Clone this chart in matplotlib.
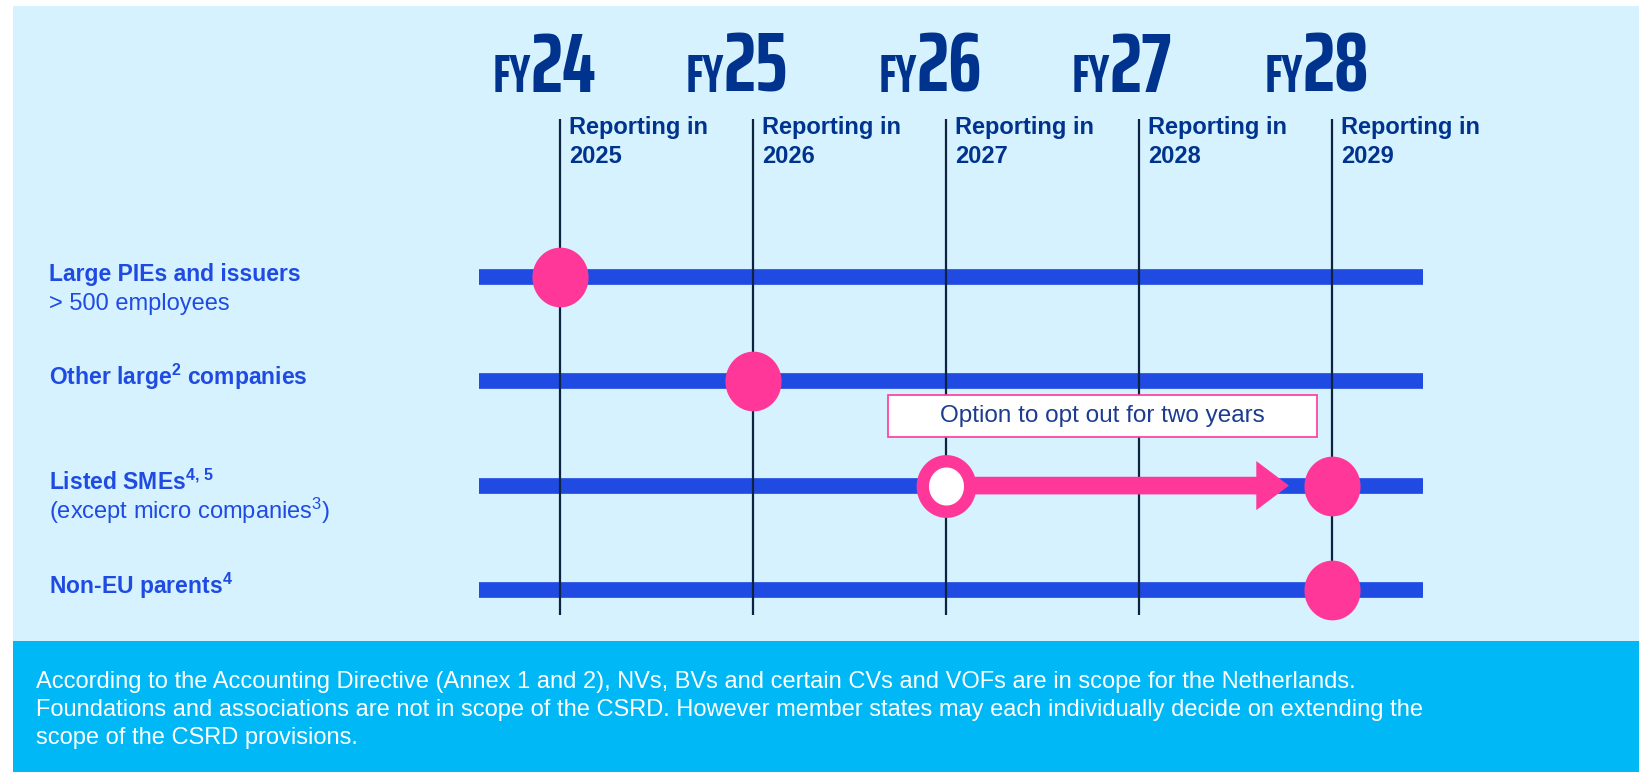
import numpy as np
import matplotlib
matplotlib.use('Agg')
import matplotlib.pyplot as plt
from matplotlib.patches import Rectangle, FancyArrowPatch
from matplotlib.path import Path

# ---- data ----
fiscal_years = [24, 25, 26, 27, 28]
report_years = [2025, 2026, 2027, 2028, 2029]
groups = ['Large PIEs and issuers',
          'Other large$^{\\mathbf{2}}$ companies',
          'Listed SMEs$^{\\mathbf{4,\\,5}}$',
          'Non-EU parents$^{\\mathbf{4}}$']
group_notes = ['> 500 employees', '', '(except micro companies$^{3}$)', '']
first_fy = [24, 25, 26, 28]
opt_out_until = [None, None, 28, None]
opt_out_label = 'Option to opt out for two years'
footnote = ['According to the Accounting Directive (Annex 1 and 2), NVs, BVs and certain CVs and VOFs are in scope for the Netherlands.',
            'Foundations and associations are not in scope of the CSRD. However member states may each individually decide on extending the',
            'scope of the CSRD provisions.']

# ---- style ----
light_bg = '#D5F2FE'
band_bg = '#00B8F5'
bar_col = '#1F4BE2'
pink = '#FF3799'
navy = '#00338D'
line_col = '#0E2340'

plt.rcParams['font.family'] = ['Liberation Sans', 'DejaVu Sans']
plt.rcParams['mathtext.fontset'] = 'custom'
plt.rcParams['mathtext.rm'] = 'Liberation Sans'
plt.rcParams['mathtext.bf'] = 'Liberation Sans:bold'
plt.rcParams['mathtext.it'] = 'Liberation Sans:italic'

W, H = 1639, 772
fig = plt.figure(figsize=(W / 100, H / 100), dpi=100)
fig.patch.set_facecolor('white')
fig.add_artist(Rectangle((13 / W, 1 - 641 / H), 1, (641 - 6) / H, transform=fig.transFigure,
                         color=light_bg, lw=0, zorder=-2))
fig.add_artist(Rectangle((13 / W, 0), 1, 1 - 641 / H, transform=fig.transFigure,
                         color=band_bg, lw=0, zorder=-2))

ax = fig.add_axes([0, 0, 1, 1])
ax.axis('off')
ax.patch.set_alpha(0)

# timeline scale: year -> pixels, row -> pixels
x0_px, step_px = 560, 193
row0_px, row_step = 277, 104.3
ax.set_xlim(fiscal_years[0] - x0_px / step_px, fiscal_years[0] + (W - x0_px) / step_px)
ax.set_ylim((H - row0_px) / row_step, -row0_px / row_step)

rows = np.arange(len(groups))
xt = ax.get_xaxis_transform()
yt = ax.get_yaxis_transform()

# bars
ax.hlines(rows, fiscal_years[0] - 0.42, fiscal_years[-1] + 0.47, colors=bar_col, lw=11.3, zorder=2)

# year lines and headers
ax.vlines(fiscal_years, 1 - 615 / H, 1 - 119 / H, transform=xt, colors=line_col, lw=1.6, zorder=3)
for fy, ry in zip(fiscal_years, report_years):
    ax.annotate('FY', (fy, 1 - 92 / H), xycoords=xt, xytext=(-29, 0), textcoords='offset pixels',
                ha='right', va='baseline', fontsize=39, fontweight='bold',
                family='Saira ExtraCondensed', color=navy)
    ax.annotate(str(fy), (fy, 1 - 92 / H), xycoords=xt, xytext=(-29, 0), textcoords='offset pixels',
                ha='left', va='baseline', fontsize=61, fontweight='bold',
                family='Saira ExtraCondensed', color=navy)
    # multi-line text: baseline anchor is the last line
    ax.annotate('Reporting in\n%d' % ry, (fy, 1 - 163 / H), xycoords=xt, xytext=(9, 0),
                textcoords='offset pixels', ha='left', va='baseline', fontsize=17,
                fontweight='bold', color=navy, linespacing=1.34)

# row labels
for i in rows:
    ax.annotate(groups[i], (49 / W, i), xycoords=yt, xytext=(0, -4), textcoords='offset pixels',
                ha='left', va='baseline', fontsize=16.5, fontweight='bold', color=bar_col)
    if group_notes[i]:
        ax.annotate(group_notes[i], (49 / W, i), xycoords=yt, xytext=(0, -33),
                    textcoords='offset pixels', ha='left', va='baseline', fontsize=17,
                    color=bar_col)

# slightly tall dot marker
t = np.linspace(0, 2 * np.pi, 120)
dot = Path(np.column_stack([0.94 * np.cos(t), np.sin(t)]), closed=True)

for i in rows:
    if opt_out_until[i] is None:
        ax.plot(first_fy[i], i, marker=dot, ms=43, color=pink, mec='none', zorder=5)
    else:
        ax.add_patch(FancyArrowPatch((first_fy[i], i), (opt_out_until[i], i),
                                     arrowstyle='simple,head_length=23.5,head_width=35.3,tail_width=12.7',
                                     mutation_scale=1, shrinkA=0, shrinkB=31, color=pink, lw=0, zorder=4))
        ax.plot(first_fy[i], i, marker=dot, ms=36.3, mfc='white', mec=pink, mew=8.9, zorder=5)
        ax.plot(opt_out_until[i], i, marker=dot, ms=43, color=pink, mec='none', zorder=5)
        # note box
        bx0, bx1 = first_fy[i] - 0.3, opt_out_until[i] - 0.08
        by = i - 0.67
        ax.add_patch(Rectangle((bx0, by - 0.2), bx1 - bx0, 0.4, facecolor='white',
                               edgecolor=pink, lw=1.2, zorder=4))
        ax.text((bx0 + bx1) / 2, by, opt_out_label, ha='center', va='center', fontsize=17.5,
                color='#1C3C8F', zorder=6)

# footnote band
fig.text(36 / W, 1 - 744 / H, '\n'.join(footnote), ha='left', va='baseline', fontsize=17,
         color='white', linespacing=1.35)

fig.savefig('out.png', dpi=100)
